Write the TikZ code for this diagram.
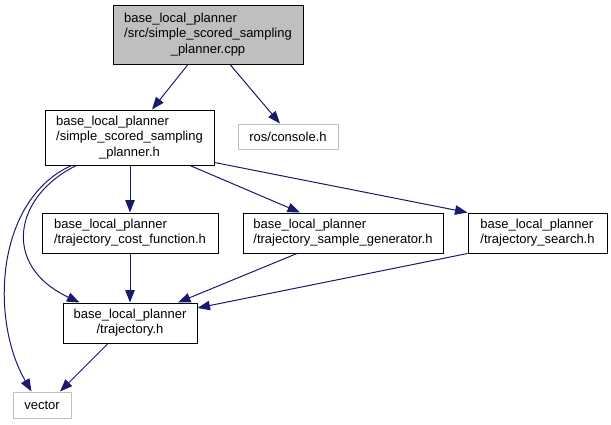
\documentclass[tikz,border=0pt]{standalone}
\usepackage{fontspec}
\setmainfont{Liberation Sans}
\usetikzlibrary{arrows.meta}
\definecolor{edgec}{HTML}{191970}
\definecolor{grayb}{HTML}{BFBFBF}
\newcommand{\clast}[1]{\multicolumn{1}{@{}c@{}}{#1}}
\newcommand{\tl}[1]{\begin{tabular}{@{}l@{}}#1\end{tabular}}
\begin{document}
\begin{tikzpicture}[x=1pt,y=-1pt,
  box/.style={draw=black, line width=1pt, fill=white, inner sep=0pt,
    font=\fontsize{13}{15.5}\selectfont},
  extbox/.style={box, draw=grayb},
  edge/.style={draw=edgec, line width=1pt, -{Triangle[length=12.5pt,width=9.5pt]}, fill=none}]
\useasboundingbox (0,0) rectangle (611,424);
\node[box, fill=grayb, minimum width=190, minimum height=59] (top) at (208,34.5)
  {\tl{base\_local\_planner\\/src/simple\_scored\_sampling\\\clast{\_planner.cpp}}};
\node[box, minimum width=169, minimum height=55] (ssp) at (129.5,137.5)
  {\tl{base\_local\_planner\\/simple\_scored\_sampling\\\clast{\_planner.h}}};
\node[extbox, minimum width=100, minimum height=25] (con) at (288,136.5) {ros/console.h};
\node[box, minimum width=176, minimum height=40] (cost) at (130,233)
  {\tl{base\_local\_planner\\\clast{/trajectory\_cost\_function.h}}};
\node[box, minimum width=200, minimum height=40] (gen) at (343,233)
  {\tl{base\_local\_planner\\\clast{/trajectory\_sample\_generator.h}}};
\node[box, minimum width=139, minimum height=40] (search) at (537.5,233)
  {\tl{base\_local\_planner\\\clast{/trajectory\_search.h}}};
\node[box, minimum width=134, minimum height=40] (traj) at (130,323)
  {\tl{base\_local\_planner\\\clast{/trajectory.h}}};
\node[extbox, minimum width=58, minimum height=26] (vec) at (42,405) {vector};
\draw[edge] ([xshift=-20pt]top.south) -- ([xshift=22.5pt]ssp.north);
\draw[edge] ([xshift=22pt]top.south) -- ([xshift=-8pt]con.north);
\draw[edge] ([xshift=0.5pt]ssp.south) -- (cost.north);
\draw[edge] ([xshift=60.5pt]ssp.south) -- ([xshift=-43pt]gen.north);
\draw[edge] ([yshift=-25pt]ssp.east) -- (search.north west);
\draw[edge] ([xshift=32pt]ssp.south west) .. controls (15,195) and (0,265) .. ([xshift=17pt]traj.north west);
\draw[edge] ([xshift=27pt]ssp.south west) .. controls (-5,200) and (-10,320) .. ([xshift=19pt]vec.north west);
\draw[edge] (cost.south) -- (traj.north);
\draw[edge] ([xshift=-46pt]gen.south) -- ([xshift=48pt]traj.north);
\draw[edge] (search.south west) -- ([yshift=15pt]traj.east);
\draw[edge] ([xshift=-22pt]traj.south) -- ([xshift=18pt]vec.north);
\end{tikzpicture}
\end{document}
